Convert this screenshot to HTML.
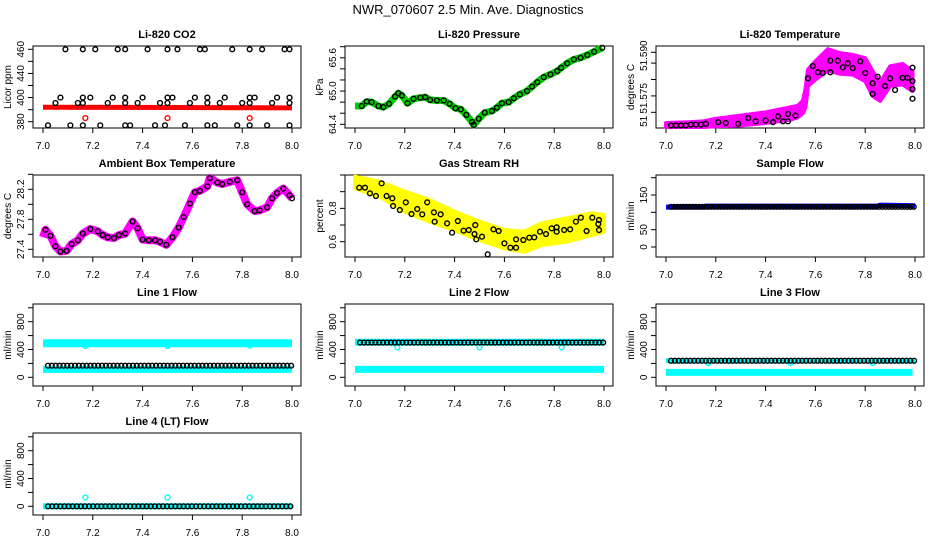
<!DOCTYPE html>
<html><head><meta charset="utf-8"><style>
body{margin:0;background:#fff}
svg{display:block;font-family:"Liberation Sans",sans-serif}
</style></head><body>
<svg id="c" width="936" height="540" viewBox="0 0 936 540" xmlns="http://www.w3.org/2000/svg">
<rect width="936" height="540" fill="#fff"/>
<text x="468" y="14" text-anchor="middle" font-size="13">NWR_070607  2.5 Min. Ave. Diagnostics</text>
</svg>
<script>
// ---------- data ----------
const xTicks=[7.0,7.2,7.4,7.6,7.8,8.0];
const xTickLabels=["7.0","7.2","7.4","7.6","7.8","8.0"];
// CO2
const co2TopX=[7.09,7.16,7.21,7.30,7.33,7.42,7.50,7.54,7.63,7.65,7.76,7.83,7.88,7.97,7.99];
const co2TopV=500;
const co2Mid1X=[7.07,7.16,7.19,7.28,7.33,7.40,7.50,7.52,7.61,7.66,7.73,7.83,7.85,7.94,7.99];
const co2Mid1V=420;
const co2Mid2X=[7.05,7.14,7.16,7.26,7.33,7.38,7.47,7.50,7.59,7.66,7.71,7.80,7.83,7.92,7.99];
const co2Mid2V=411;
const co2BotX=[7.02,7.11,7.16,7.23,7.33,7.35,7.45,7.49,7.57,7.66,7.69,7.78,7.83,7.90,7.99];
const co2BotV=374;
const co2RedBandX=[7.0,8.0];
const co2RedBandV=[404,403];
const co2RedOutX=[7.17,7.50,7.83];
const co2RedOutV=[386,386,386];
// Pressure
const presX=[7.0,7.027,7.047,7.067,7.094,7.114,7.137,7.161,7.174,7.188,7.211,7.235,7.262,7.282,7.302,7.329,7.356,7.38,7.403,7.425,7.447,7.47,7.477,7.497,7.521,7.55,7.57,7.59,7.617,7.638,7.662,7.691,7.711,7.732,7.758,7.785,7.812,7.828,7.852,7.879,7.906,7.933,7.96,7.993];
const presV=[64.73,64.73,64.81,64.80,64.73,64.71,64.77,64.90,64.96,64.92,64.78,64.86,64.88,64.89,64.84,64.83,64.83,64.77,64.69,64.67,64.57,64.44,64.39,64.50,64.61,64.64,64.70,64.78,64.80,64.87,64.94,65.0,65.08,65.16,65.25,65.30,65.36,65.42,65.50,65.57,65.60,65.65,65.71,65.78];
// Li-820 temperature (units of tick steps)
const tempBandX=[7.0,7.1,7.15,7.2,7.3,7.4,7.45,7.5,7.53,7.55,7.56,7.57,7.6,7.65,7.7,7.75,7.8,7.83,7.86,7.9,7.95,7.99];
const tempHi=[0.35,0.4,0.45,0.6,0.8,1.0,1.15,1.3,1.4,1.7,2.4,3.6,4.1,4.85,4.6,4.5,4.3,3.5,2.8,3.8,3.95,3.5];
const tempLo=[0.1,0.1,0.1,0.15,0.2,0.35,0.45,0.55,0.7,0.95,1.3,2.6,3.0,3.55,3.35,3.3,2.9,2.0,1.7,2.6,2.7,2.3];
const tempPtX=[7.02,7.04,7.06,7.08,7.10,7.12,7.14,7.16,7.21,7.24,7.29,7.33,7.36,7.40,7.43,7.45,7.47,7.49,7.49,7.52,7.57,7.59,7.61,7.63,7.66,7.66,7.69,7.71,7.73,7.75,7.78,7.80,7.83,7.83,7.85,7.88,7.90,7.92,7.95,7.97,7.99,7.99,7.99,7.99];
const tempPtV=[0.2,0.2,0.2,0.2,0.25,0.25,0.25,0.3,0.4,0.35,0.3,0.65,0.45,0.5,0.4,0.75,0.45,0.9,0.45,0.8,3.07,3.82,3.44,3.4,3.44,4.15,4.15,3.74,3.99,3.69,4.1,3.4,2.77,2.12,3.17,2.6,3.07,2.36,3.1,3.1,2.9,3.72,2.42,1.83];
// Ambient box temperature
const ambX=[7.0,7.01,7.03,7.05,7.07,7.095,7.115,7.14,7.16,7.19,7.22,7.24,7.26,7.285,7.305,7.33,7.36,7.38,7.40,7.425,7.45,7.47,7.495,7.52,7.545,7.565,7.59,7.61,7.63,7.66,7.67,7.70,7.72,7.75,7.78,7.80,7.82,7.85,7.87,7.90,7.92,7.94,7.965,7.99,8.0];
const ambV=[27.56,27.66,27.58,27.44,27.37,27.38,27.47,27.52,27.61,27.67,27.64,27.59,27.56,27.55,27.59,27.61,27.77,27.68,27.53,27.52,27.52,27.50,27.46,27.56,27.69,27.83,28.01,28.16,28.18,28.24,28.35,28.29,28.27,28.30,28.32,28.16,28.0,27.91,27.92,27.96,28.08,28.15,28.21,28.12,28.08];
// Gas stream RH
const rhBandX=[7.0,7.1,7.2,7.3,7.4,7.5,7.6,7.68,7.75,7.85,7.95,8.0];
const rhHi=[0.99,0.96,0.90,0.85,0.78,0.72,0.67,0.66,0.71,0.74,0.77,0.76];
const rhLo=[0.92,0.87,0.78,0.72,0.67,0.61,0.56,0.54,0.58,0.60,0.64,0.66];
const rhPtX=[7.017,7.04,7.06,7.084,7.107,7.127,7.15,7.153,7.18,7.204,7.227,7.25,7.27,7.29,7.317,7.32,7.344,7.37,7.39,7.413,7.436,7.457,7.483,7.48,7.487,7.51,7.533,7.556,7.577,7.6,7.624,7.647,7.647,7.676,7.7,7.72,7.743,7.767,7.79,7.81,7.81,7.84,7.864,7.887,7.907,7.93,7.953,7.977,7.98,7.98];
const rhPtV=[0.924,0.924,0.89,0.874,0.95,0.874,0.86,0.814,0.79,0.836,0.766,0.796,0.764,0.836,0.776,0.72,0.764,0.71,0.654,0.724,0.666,0.67,0.70,0.646,0.614,0.63,0.524,0.674,0.664,0.59,0.564,0.614,0.564,0.61,0.624,0.626,0.66,0.646,0.68,0.66,0.686,0.67,0.674,0.72,0.744,0.664,0.744,0.706,0.67,0.73];
// Sample flow
const sampleBandX=[7.0,7.15,7.16,7.85,7.86,8.0];
const sampleBandV=[115,115,118,118,121,119];
const sampleBlackV=116;
// Line flows
const line1CyanHiV=490, line1CyanLoV=114, line1BlackV=167;
const line1DipX=[7.17,7.5,7.83], line1DipV=[450,450,455];
const line2CyanHiV=505, line2CyanLoV=114, line2BlackV=500;
const line2DipX=[7.17,7.5,7.83], line2DipV=[430,430,430];
const line3CyanHiV=238, line3CyanLoV=71, line3BlackV=238;
const line3DipX=[7.17,7.5,7.83], line3DipV=[205,205,205];
const line4CyanV=0, line4BlackV=0;
const line4OutX=[7.17,7.5,7.83], line4OutV=[127,127,127];

// ---------- layout ----------
const svg=document.getElementById('c');
const NS='http://www.w3.org/2000/svg';
const colL=[33,345,656], rowT=[46,175,304,433], W=268, H=82;
function el(tag,attrs,parent){const e=document.createElementNS(NS,tag);for(const k in attrs)e.setAttribute(k,attrs[k]);(parent||svg).appendChild(e);return e;}

function panel(name,col,row,title,ytitle,ya,ticks,labels){
  const g=el('g',{});
  
  
  const L=colL[col],T=rowT[row];
  const P={g,L,T,
    x:h=>L+10+(h-7)*249,
    y:v=>T+ya[1]+(v-ya[0])*(ya[3]-ya[1])/(ya[2]-ya[0])};
  const t=el('text',{x:L+W/2,y:T-8,'text-anchor':'middle','font-size':11,'font-weight':'bold'},g);
  t.textContent=title;
  
  
  const fr=el('rect',{x:L,y:T,width:W,height:H,fill:'none',stroke:'#000','stroke-width':1},g);
  
  
  const xa=el('g',{},g);
  
  
  xTicks.forEach((h,i)=>{
    el('line',{x1:P.x(h),x2:P.x(h),y1:T+H,y2:T+H+5,stroke:'#000'},xa);
    const tl=el('text',{x:P.x(h),y:T+H+21,'text-anchor':'middle','font-size':10},xa);
    tl.textContent=xTickLabels[i];
  });
  el('line',{x1:P.x(7),x2:P.x(8),y1:T+H,y2:T+H,stroke:'#000'},xa);
  const ya2=el('g',{},g);
  
  
  ticks.forEach(v=>{const yy=P.y(v);if(yy<T-1||yy>T+H+1)return;el('line',{x1:L-5,x2:L,y1:yy,y2:yy,stroke:'#000'},ya2);});
  labels.forEach(([v,s])=>{const yy=P.y(v);const tl=el('text',{x:0,y:0,'text-anchor':'middle','font-size':10,transform:`translate(${L-9},${yy}) rotate(-90)`},ya2);tl.textContent=s;});
  const yt=el('text',{x:0,y:0,'text-anchor':'middle','font-size':10,transform:`translate(${L-22},${T+H/2}) rotate(-90)`},g);
  yt.textContent=ytitle;
  
  
  return P;
}
function circ(P,h,v,color,nm){const c=el('circle',{cx:P.x(h),cy:P.y(v),r:2.4,fill:'none',stroke:color,'stroke-width':1.4},P.g);
  
  }
function band(P,xsArr,vs,color,w,nm){const pts=xsArr.map((h,i)=>P.x(h)+','+P.y(vs[i])).join(' ');
  const p=el('polyline',{points:pts,fill:'none',stroke:color,'stroke-width':w,'stroke-linejoin':'round','stroke-linecap':'butt'},P.g);
  
  }
function area(P,xsArr,hi,lo,color,nm){const pts=xsArr.map((h,i)=>P.x(h)+','+P.y(hi[i])).concat(xsArr.map((h,i)=>P.x(h)+','+P.y(lo[i])).reverse()).join(' ');
  const p=el('polygon',{points:pts,fill:color,stroke:color,'stroke-width':4,'stroke-linejoin':'round'},P.g);
  
  }
function grid(a,b,step){const r=[];for(let t=a;t<=b+1e-9;t+=step)r.push(t);return r;}

// CO2
let P=panel('co2',0,0,'Li-820 CO2','Licor ppm',[380,75.7,500,3.3],[380,400,420,440,460,480,500],[[380,'380'],[420,'400'],[460,'440'],[500,'460']]);
band(P,co2RedBandX,co2RedBandV,'#f00',5,'co2-red-band');
co2RedOutX.forEach((h,i)=>circ(P,h,co2RedOutV[i],'#f00','co2-red-point'));
co2TopX.forEach(h=>circ(P,h,co2TopV,'#000','co2-point'));
co2Mid1X.forEach(h=>circ(P,h,co2Mid1V,'#000','co2-point'));
co2Mid2X.forEach(h=>circ(P,h,co2Mid2V,'#000','co2-point'));
co2BotX.forEach(h=>circ(P,h,co2BotV,'#000','co2-point'));

// Pressure
P=panel('pressure',1,0,'Li-820 Pressure','kPa',[64.4,78.3,65.8,0.7],[64.4,64.6,64.8,65.0,65.2,65.4,65.6,65.8],[[64.4,'64.4'],[65.0,'65.0'],[65.6,'65.6']]);
band(P,presX,presV,'#0c0',7,'pressure-green-band');
presX.forEach((h,i)=>{if(i>0)circ(P,h,presV[i],'#000','pressure-point');});

// Li-820 temperature
P=panel('li820-temp',2,0,'Li-820 Temperature','degrees C',[1,66.3,4,17.1],[1,2,3,4,4.66],[[0.45,'51'],[1.85,'51.575'],[4.45,'51.590']]);
area(P,tempBandX,tempHi,tempLo,'#f0f','li820-temp-magenta-band');
tempPtX.forEach((h,i)=>circ(P,h,tempPtV[i],'#000','li820-temp-point'));

// Ambient
P=panel('ambient-temp',0,1,'Ambient Box Temperature','degrees C',[27.4,74.3,28.4,-0.7],[27.4,27.6,27.8,28.0,28.2,28.4],[[27.4,'27.4'],[27.8,'27.8'],[28.2,'28.2']]);
band(P,ambX,ambV,'#f0f',8,'ambient-magenta-band');
ambX.forEach((h,i)=>{if(i>0)circ(P,h,ambV[i],'#000','ambient-point');});

// RH
P=panel('gas-rh',1,1,'Gas Stream RH','percent',[0.6,66.7,1.0,0],[0.5,0.6,0.7,0.8,0.9,1.0],[[0.6,'0.6'],[0.8,'0.8']]);
area(P,rhBandX,rhHi,rhLo,'#ff0','rh-yellow-band');
rhPtX.forEach((h,i)=>circ(P,h,rhPtV[i],'#000','rh-point'));

// Sample flow
P=panel('sample-flow',2,1,'Sample Flow','ml/min',[0,72,200,2.7],[0,50,100,150,200],[[0,'0'],[50,'50'],[150,'150']]);
band(P,sampleBandX,sampleBandV,'#00f',5,'sample-blue-band');
grid(7.02,8.0,0.0125).forEach(h=>circ(P,h,sampleBlackV,'#000','sample-point'));

const flowTicks=[0,200,400,600,800,1000], flowLabels=[[0,'0'],[400,'400'],[800,'800']];
const flowYA=[0,73.3,1000,3.8];
// Line 1
P=panel('line1-flow',0,2,'Line 1 Flow','ml/min',flowYA,flowTicks,flowLabels);
band(P,[7.0,8.0],[line1CyanHiV,line1CyanHiV],'#0ff',8,'line1-cyan-upper');
band(P,[7.0,8.0],[line1CyanLoV,line1CyanLoV],'#0ff',7,'line1-cyan-lower');
line1DipX.forEach((h,i)=>circ(P,h,line1DipV[i],'#0ff','line1-cyan-dip'));
grid(7.02,8.0,0.0155).forEach(h=>circ(P,h,line1BlackV,'#000','line1-point'));
// Line 2
P=panel('line2-flow',1,2,'Line 2 Flow','ml/min',flowYA,flowTicks,flowLabels);
band(P,[7.0,8.0],[line2CyanHiV,line2CyanHiV],'#0ff',7,'line2-cyan-upper');
band(P,[7.0,8.0],[line2CyanLoV,line2CyanLoV],'#0ff',7,'line2-cyan-lower');
line2DipX.forEach((h,i)=>circ(P,h,line2DipV[i],'#0ff','line2-cyan-dip'));
grid(7.02,8.0,0.0155).forEach(h=>circ(P,h,line2BlackV,'#000','line2-point'));
// Line 3
P=panel('line3-flow',2,2,'Line 3 Flow','ml/min',flowYA,flowTicks,flowLabels);
band(P,[7.0,8.0],[line3CyanHiV,line3CyanHiV],'#0ff',5,'line3-cyan-upper');
band(P,[7.0,7.99],[line3CyanLoV,line3CyanLoV],'#0ff',7,'line3-cyan-lower');
line3DipX.forEach((h,i)=>circ(P,h,line3DipV[i],'#0ff','line3-cyan-dip'));
grid(7.02,8.0,0.0155).forEach(h=>circ(P,h,line3BlackV,'#000','line3-point'));
// Line 4
P=panel('line4-flow',0,3,'Line 4 (LT) Flow','ml/min',flowYA,flowTicks,flowLabels);
band(P,[7.0,8.0],[line4CyanV,line4CyanV],'#0ff',6,'line4-cyan-band');
line4OutX.forEach((h,i)=>circ(P,h,line4OutV[i],'#0ff','line4-cyan-outlier'));
grid(7.02,8.0,0.0165).forEach(h=>circ(P,h,line4BlackV,'#000','line4-point'));
</script>
</body></html>
